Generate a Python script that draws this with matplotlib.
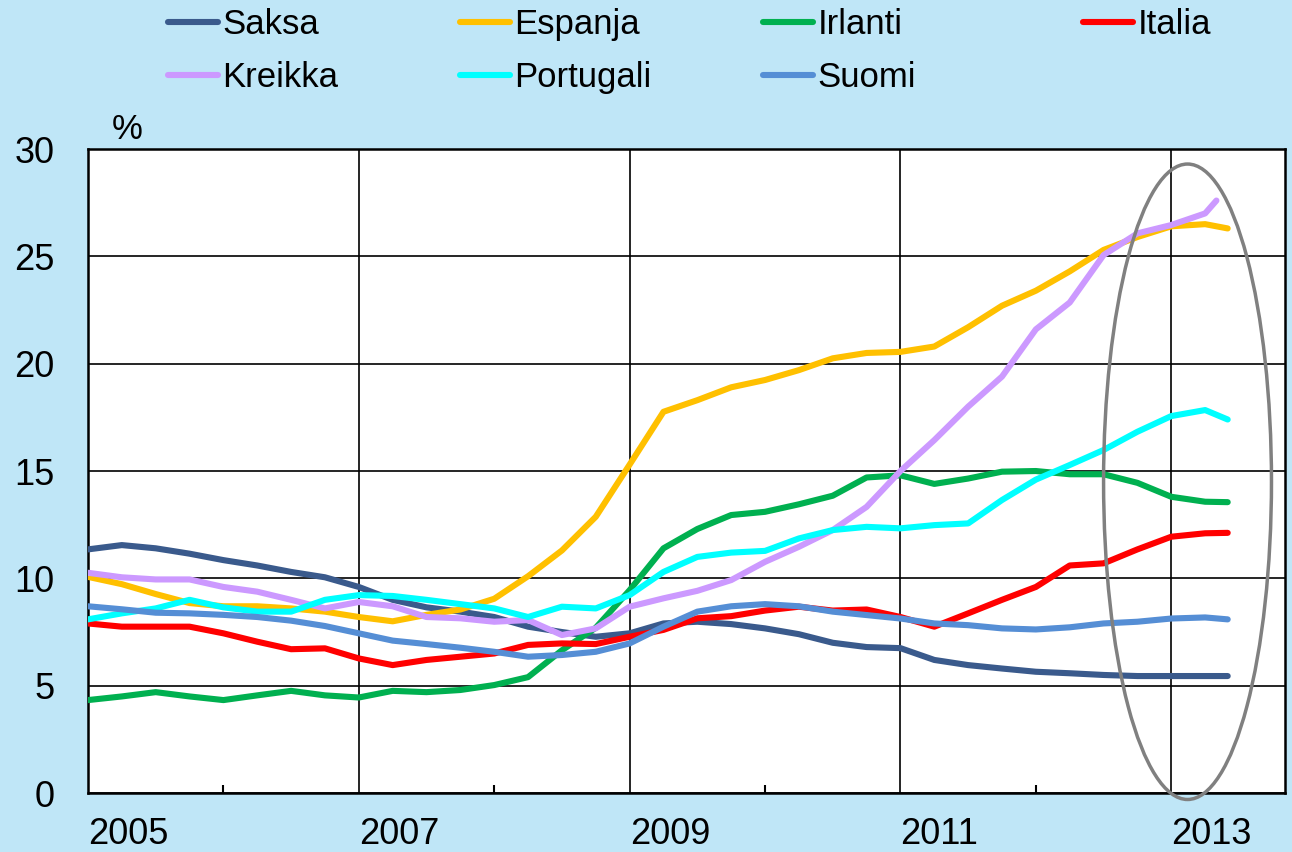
import matplotlib
matplotlib.use("Agg")
import matplotlib.pyplot as plt
from matplotlib.patches import Ellipse
from matplotlib.ticker import FixedLocator

plt.rcParams['font.family'] = ['Liberation Sans', 'DejaVu Sans']

# quarterly readings, Jan 2005 .. Apr 2013, then the last month
months = list(range(0, 100, 3)) + [101]
months_kreikka = list(range(0, 100, 3)) + [100]

saksa = [11.35, 11.55, 11.4, 11.15, 10.85, 10.6, 10.3, 10.05, 9.6, 9.0, 8.65, 8.45,
         8.2, 7.75, 7.5, 7.28, 7.44, 7.9, 7.98, 7.87, 7.67, 7.4, 7.0, 6.8,
         6.75, 6.2, 5.96, 5.8, 5.65, 5.58, 5.5, 5.45, 5.45, 5.45, 5.45]
espanja = [10.07, 9.73, 9.27, 8.85, 8.7, 8.7, 8.6, 8.45, 8.2, 8.0, 8.3, 8.55,
           9.05, 10.1, 11.3, 12.87, 15.3, 17.76, 18.3, 18.9, 19.24, 19.7, 20.25, 20.5,
           20.55, 20.8, 21.7, 22.7, 23.4, 24.3, 25.3, 25.9, 26.4, 26.5, 26.3]
irlanti = [4.33, 4.5, 4.7, 4.5, 4.33, 4.55, 4.76, 4.55, 4.45, 4.76, 4.7, 4.8,
           5.03, 5.4, 6.65, 7.7, 9.45, 11.4, 12.3, 12.95, 13.1, 13.45, 13.85, 14.7,
           14.8, 14.4, 14.65, 14.97, 15.0, 14.85, 14.85, 14.45, 13.8, 13.57, 13.55]
italia = [7.9, 7.75, 7.75, 7.75, 7.44, 7.05, 6.7, 6.74, 6.27, 5.96, 6.2, 6.35,
          6.5, 6.9, 6.97, 6.94, 7.28, 7.6, 8.14, 8.24, 8.5, 8.68, 8.5, 8.55,
          8.2, 7.75, 8.37, 9.0, 9.6, 10.6, 10.7, 11.35, 11.94, 12.1, 12.12]
kreikka = [10.26, 10.05, 9.95, 9.95, 9.6, 9.38, 9.0, 8.6, 8.9, 8.7, 8.2, 8.14,
           7.98, 8.06, 7.36, 7.67, 8.68, 9.07, 9.42, 9.92, 10.77, 11.47, 12.25, 13.33,
           15.0, 16.44, 18.0, 19.4, 21.6, 22.85, 25.06, 26.07, 26.46, 27.0, 27.6]
portugali = [8.09, 8.37, 8.6, 9.0, 8.65, 8.45, 8.45, 9.0, 9.22, 9.18, 9.0, 8.8,
             8.6, 8.2, 8.68, 8.6, 9.22, 10.3, 11.0, 11.2, 11.28, 11.86, 12.25, 12.4,
             12.33, 12.48, 12.56, 13.65, 14.6, 15.28, 15.98, 16.83, 17.56, 17.84, 17.4]
suomi = [8.7, 8.56, 8.4, 8.37, 8.3, 8.2, 8.03, 7.78, 7.44, 7.1, 6.94, 6.77,
         6.58, 6.35, 6.43, 6.58, 6.97, 7.75, 8.45, 8.7, 8.8, 8.7, 8.45, 8.29,
         8.13, 7.9, 7.82, 7.67, 7.62, 7.72, 7.9, 7.98, 8.13, 8.18, 8.09]

names = ['Saksa', 'Espanja', 'Irlanti', 'Italia', 'Kreikka', 'Portugali', 'Suomi']
colors = ['#3A5A8C', '#FFC000', '#00B050', '#FF0000', '#CC99FF', '#00FFFF', '#558ED5']
year_ticks = [2005, 2007, 2009, 2011, 2013]

series = [saksa, espanja, irlanti, italia, kreikka, portugali, suomi]

fig = plt.figure(figsize=(12.92, 8.52), dpi=100, facecolor='#BFE6F7')
ax = fig.add_axes([0.0681, 0.0692, 0.9265, 0.7559])
ax.set_facecolor('white')

lines = {}
for name, vals, col in zip(names, series, colors):
    m = months_kreikka if name == 'Kreikka' else months
    t = [2005 + k / 12 for k in m]
    ln, = ax.plot(t, vals, color=col, lw=4.4, solid_capstyle='round',
                  solid_joinstyle='round', label=name, zorder=3)
    lines[name] = ln

# the circled end of the chart
ax.add_patch(Ellipse((2013.12, 14.5), 1.24, 29.6, fill=False,
                     edgecolor='#808080', lw=2.5, clip_on=False, zorder=4))

ax.set_xlim(2005, 2013.84)
ax.set_ylim(0, 30)
ax.set_yticks(range(0, 31, 5))
ax.set_xticks(year_ticks)
ax.set_xticklabels([str(y) for y in year_ticks])
for lab in ax.get_xticklabels():
    lab.set_horizontalalignment('left')
ax.xaxis.set_minor_locator(FixedLocator([2006, 2008, 2010, 2012]))
ax.grid(True, which='major', color='black', lw=1.2, zorder=1)
ax.tick_params(axis='y', length=0, pad=24, labelsize=26)
ax.tick_params(axis='x', which='major', length=0, pad=17, labelsize=26)
ax.tick_params(axis='x', which='minor', direction='in', length=6, width=1.5)
for sp in ax.spines.values():
    sp.set_color('black')
    sp.set_linewidth(1.8)

ax.text(0.02, 1.005, '%', transform=ax.transAxes, fontsize=25,
        ha='left', va='bottom')

# legend laid out in four columns, row by row
col_x = [168, 460, 763, 1083]
col_items = [['Saksa', 'Kreikka'], ['Espanja', 'Portugali'], ['Irlanti', 'Suomi'], ['Italia']]
for x, items in zip(col_x, col_items):
    fig.legend([lines[n] for n in items], items, loc='upper left',
               bbox_to_anchor=(x / 1292, 1 - 8 / 852), frameon=False,
               fontsize=25, handlelength=1.45, handletextpad=0.12,
               borderpad=0, borderaxespad=0, labelspacing=0.58)

fig.savefig('out.png', dpi=100, facecolor=fig.get_facecolor())
